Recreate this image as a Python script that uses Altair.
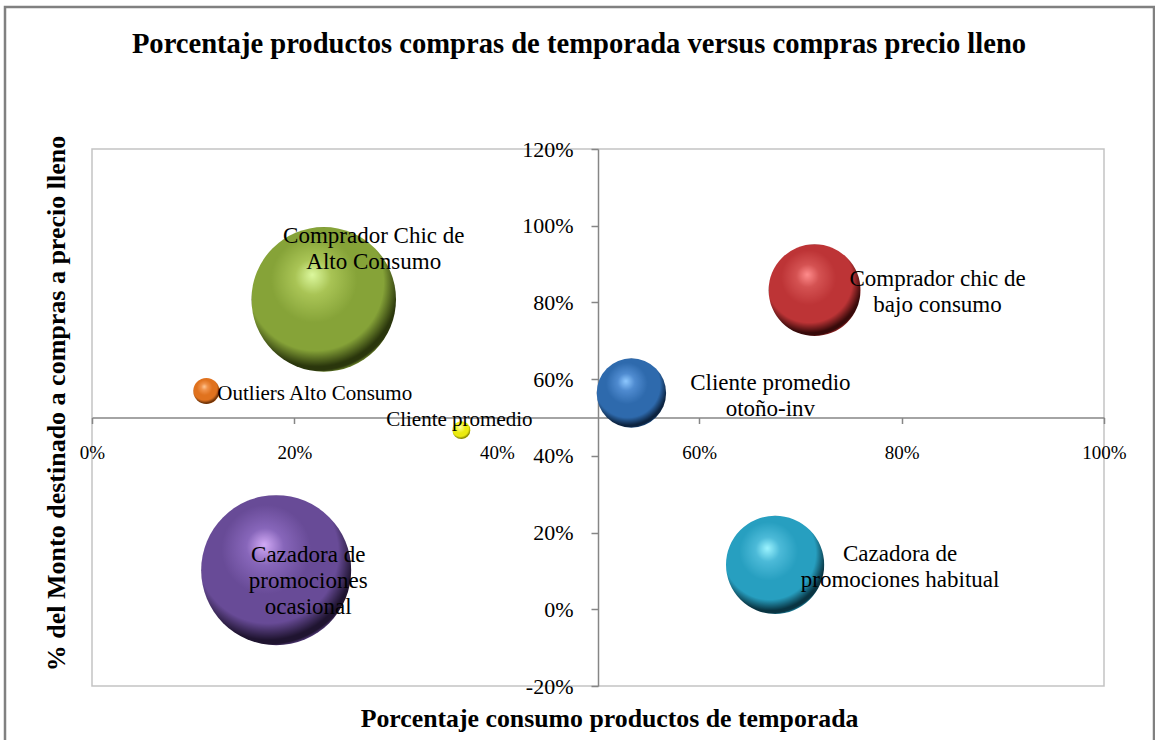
import altair as alt
import pandas as pd

# ---------------- data ----------------
nombres = [
    "Comprador Chic de Alto Consumo",
    "Outliers Alto Consumo",
    "Cliente promedio",
    "Cazadora de promociones ocasional",
    "Cliente promedio otoño-inv",
    "Comprador chic de bajo consumo",
    "Cazadora de promociones habitual",
]
etiquetas = [
    "Comprador Chic de\nAlto Consumo",
    "Outliers Alto Consumo",
    "Cliente promedio",
    "Cazadora de\npromociones\nocasional",
    "Cliente promedio\notoño-inv",
    "Comprador chic de\nbajo consumo",
    "Cazadora de\npromociones habitual",
]
pct_temporada = [0.229, 0.113, 0.365, 0.182, 0.533, 0.714, 0.675]
pct_precio_lleno = [0.808, 0.569, 0.467, 0.102, 0.564, 0.832, 0.116]
tamano = [52, 1.7, 0.8, 56, 12, 21, 24]

titulo = "Porcentaje productos compras de temporada versus compras precio lleno"
x_ticks = [0, 0.2, 0.4, 0.6, 0.8, 1.0]
y_ticks = [-0.2, 0, 0.2, 0.4, 0.6, 0.8, 1.0, 1.2]

df = pd.DataFrame({
    "nombre": nombres,
    "etiqueta": etiquetas,
    "temporada": pct_temporada,
    "precio_lleno": pct_precio_lleno,
    "tamano": tamano,
})

# ---------------- styles ----------------
W, H = 1012, 537
FONT = "Liberation Serif"
# colours: highlight, light, main, dark
estilos = {
    "Comprador Chic de Alto Consumo": dict(c=("#dcf89e", "#a9c455", "#86a338", "#2a360c"), dx=50, dy=-63, align="center", fs=23),
    "Outliers Alto Consumo": dict(c=("#ffc896", "#f0924a", "#e0721e", "#6a3006"), dx=11, dy=3, align="left", fs=21),
    "Cliente promedio": dict(c=("#ffffb8", "#f7f760", "#ebeb10", "#858500"), dx=-2, dy=-10, align="center", fs=21),
    "Cazadora de promociones ocasional": dict(c=("#d2aaf6", "#8766ba", "#684b97", "#1f1430"), dx=32, dy=-15, align="center", fs=23),
    "Cliente promedio otoño-inv": dict(c=("#8ec8ff", "#4f8bd0", "#2e6aad", "#0c2340"), dx=139, dy=-10, align="center", fs=23),
    "Comprador chic de bajo consumo": dict(c=("#ff8c8c", "#d45252", "#bd3436", "#380a0a"), dx=123, dy=-11, align="center", fs=23),
    "Cazadora de promociones habitual": dict(c=("#9cf4ff", "#4cbad8", "#279fc0", "#093442"), dx=125, dy=-11, align="center", fs=23),
}

x_enc = alt.X(
    "temporada:Q",
    scale=alt.Scale(domain=[0, 1], nice=False, zero=False),
    axis=alt.Axis(
        title="Porcentaje consumo productos de temporada",
        values=x_ticks, format=".0%", offset=-H / 2, grid=False,
        labelFlush=False, labelOverlap=False,
        labelFont=FONT, labelFontSize=19, labelColor="#000000", labelPadding=20,
        tickSize=6, tickColor="#868686", domainColor="#868686", domainWidth=1.5, tickWidth=1.5,
        titleFont=FONT, titleFontSize=25.8, titleFontWeight="bold", titleColor="#000000",
        titleX=517, titleY=309, titleBaseline="alphabetic", titleAlign="center",
    ),
)
y_enc = alt.Y(
    "precio_lleno:Q",
    scale=alt.Scale(domain=[-0.2, 1.2], nice=False, zero=False),
    axis=alt.Axis(
        title="% del Monto destinado a compras a precio lleno",
        values=y_ticks, format=".0%", offset=-W / 2, grid=False,
        labelExpr="replace(datum.label, '\u2212', '-')",
        labelFlush=False, labelOverlap=False,
        labelFont=FONT, labelFontSize=22, labelColor="#000000", labelPadding=18,
        tickSize=7, tickColor="#868686", domainColor="#868686", domainWidth=1.5, tickWidth=1.5,
        titleFont=FONT, titleFontSize=26, titleFontWeight="bold", titleColor="#000000",
        titleX=-534, titleY=254, titleBaseline="alphabetic", titleAlign="center",
    ),
)
size_enc = alt.Size(
    "tamano:Q",
    scale=alt.Scale(domain=[0, max(tamano)], range=[0, (2 * 75) ** 2], zero=True),
    legend=None,
)

# outer frame of the chart object
frame = alt.Chart(pd.DataFrame({"f": [0]})).mark_rect(
    fillOpacity=0, stroke="#808080", strokeWidth=2.5
).encode(
    x=alt.value(-87), x2=alt.value(1062), y=alt.value(-142), y2=alt.value(H + 60)
)

# chart title
title_layer = alt.Chart(pd.DataFrame({"t": [titulo]})).mark_text(
    font=FONT, fontSize=28.6, fontWeight="bold", color="#000000",
    align="center", baseline="alphabetic",
).encode(x=alt.value(487), y=alt.value(-96), text="t:N")

layers = [frame, title_layer]
for nombre in nombres:
    st = estilos[nombre]
    hi, light, main, dark = st["c"]
    grad = {
        "gradient": "radial",
        "x1": 0.42, "y1": 0.33, "r1": 0.0,
        "x2": 0.45, "y2": 0.4, "r2": 0.62,
        "stops": [
            {"offset": 0.0, "color": hi},
            {"offset": 0.2, "color": light},
            {"offset": 0.48, "color": main},
            {"offset": 0.76, "color": main},
            {"offset": 0.92, "color": dark},
            {"offset": 0.96, "color": dark},
            {"offset": 1.0, "color": main},
        ],
    }
    sub = alt.Chart(df).transform_filter(alt.datum.nombre == nombre)
    bubble = sub.mark_circle(fill=grad, opacity=1, fillOpacity=1, strokeOpacity=0).encode(
        x=x_enc, y=y_enc, size=size_enc
    )
    layers.append(bubble)

for nombre in nombres:
    st = estilos[nombre]
    sub = alt.Chart(df).transform_filter(alt.datum.nombre == nombre)
    label = sub.mark_text(
        font=FONT, fontSize=st["fs"], color="#000000", align=st["align"],
        baseline="middle", dx=st["dx"], dy=st["dy"], lineBreak="\n", lineHeight=26,
    ).encode(x=x_enc, y=y_enc, text="etiqueta:N")
    layers.append(label)

chart = alt.layer(*layers).properties(
    width=W,
    height=H,
    padding={"left": 92, "top": 149, "right": 51, "bottom": 54},
    autosize=alt.AutoSizeParams(type="none"),
    background="#ffffff",
).configure_view(stroke="#c3c3c3", strokeWidth=1.5)

chart.save("out.html", embed_options={"renderer": "svg", "actions": False})
